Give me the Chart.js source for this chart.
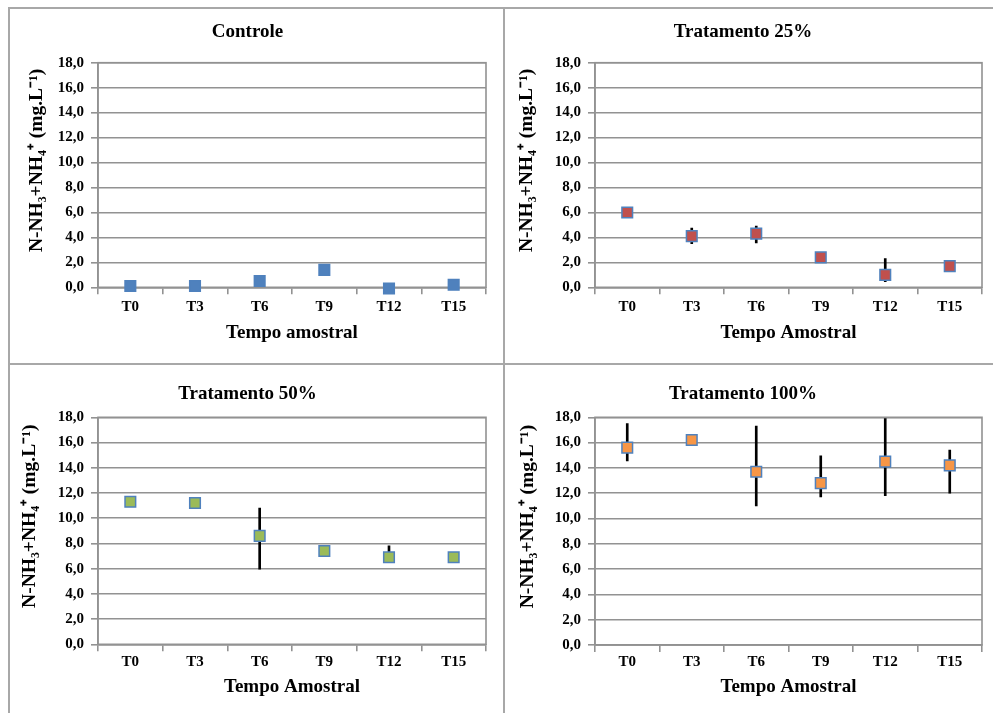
<!DOCTYPE html>
<html>
<head>
<meta charset="utf-8">
<script src="https://cdn.jsdelivr.net/npm/chart.js@4.4.1/dist/chart.umd.min.js"></script>
<style>
body { margin: 0; background: #fff; }
#pagina { position: relative; width: 993px; height: 713px; overflow: hidden; background: #fff; }
.painel { position: absolute; }
.linha { position: absolute; background: #a8a8a8; }
</style>
</head>
<body>
<div id="pagina">
  <canvas id="g1" class="painel" width="495" height="356" style="left:9px;top:8px"></canvas>
  <canvas id="g2" class="painel" width="489" height="356" style="left:504px;top:8px"></canvas>
  <canvas id="g3" class="painel" width="495" height="349" style="left:9px;top:364px"></canvas>
  <canvas id="g4" class="painel" width="489" height="349" style="left:504px;top:364px"></canvas>
  <div class="linha" style="left:8px;top:7px;width:985px;height:2px"></div>
  <div class="linha" style="left:8px;top:7px;width:2px;height:706px"></div>
  <div class="linha" style="left:503px;top:7px;width:2px;height:706px"></div>
  <div class="linha" style="left:8px;top:363px;width:985px;height:2px"></div>
</div>
<script>
// categorias (tempo amostral)
var tempos = ['T0', 'T3', 'T6', 'T9', 'T12', 'T15'];

// N-NH3+NH4+ (mg/L) - medias e erros (+ / -)
var mediaControle = [0.1, 0.1, 0.5, 1.4, -0.1, 0.2];
var errMaisControle = [0, 0, 0, 0, 0, 0];
var errMenosControle = [0, 0, 0, 0, 0, 0];

var media25 = [6.0, 4.1, 4.3, 2.4, 1.0, 1.7];
var errMais25 = [0, 0.65, 0.6, 0, 1.3, 0];
var errMenos25 = [0, 0.6, 0.75, 0, 0.55, 0];

var media50 = [11.3, 11.2, 8.6, 7.4, 6.9, 6.9];
var errMais50 = [0, 0, 2.2, 0, 0.9, 0];
var errMenos50 = [0, 0, 2.65, 0, 0, 0];

var media100 = [15.6, 16.2, 13.7, 12.8, 14.5, 14.2];
var errMais100 = [1.9, 0, 3.6, 2.15, 3.4, 1.2];
var errMenos100 = [1.05, 0, 2.7, 1.1, 2.7, 2.2];

var yTicksMin = 0, yTicksMax = 18, yTicksPasso = 2;

// espacos no inicio sobem o texto (como no original)
var tituloY = '\u2002\u2002\u2002N-NH\u2083+NH\u2084\u207A (mg.L\u207B\u00B9)';
var fonte = 'Liberation Serif';
var corGrade = '#929292';

var bordaArea = {
    id: 'bordaArea',
    beforeDatasetsDraw: function(chart) {
        var a = chart.chartArea;
        var ctx = chart.ctx;
        ctx.save();
        ctx.strokeStyle = corGrade;
        ctx.lineWidth = 1.6;
        ctx.strokeRect(a.left, a.top, a.right - a.left, a.bottom - a.top);
        ctx.restore();
    }
};

function barrasErro(media, mais, menos) {
    var arr = [];
    for (var i in media) {
        if (mais[i] == 0 && menos[i] == 0) arr.push(null);
        else arr.push([media[i] - menos[i], media[i] + mais[i]]);
    }
    return arr;
}

function MontaGrafico(id, titulo, tituloX, media, mais, menos, corFundo, corBorda, geo) {
    var campo = document.getElementById(id);
    new Chart(campo, {
        data: {
            labels: tempos,
            datasets: [
                {
                    type: 'line',
                    data: media,
                    showLine: false,
                    pointStyle: 'rect',
                    pointRadius: 7.5,
                    pointBackgroundColor: corFundo,
                    pointBorderColor: corBorda,
                    pointBorderWidth: 1.5,
                    clip: false,
                    order: 0
                },
                {
                    type: 'bar',
                    data: barrasErro(media, mais, menos),
                    backgroundColor: '#000',
                    barThickness: 2,
                    grouped: false,
                    order: 1
                }
            ]
        },
        options: {
            responsive: false,
            animation: false,
            layout: { padding: { left: 0, right: geo.dir, top: 0, bottom: geo.baixo } },
            plugins: {
                legend: { display: false },
                tooltip: { enabled: false },
                title: {
                    display: true,
                    text: titulo,
                    color: '#000',
                    font: { family: fonte, size: 19, weight: 'bold' },
                    padding: { top: geo.tTop, bottom: geo.tBottom }
                }
            },
            scales: {
                x: {
                    offset: true,
                    grid: { offset: true, drawOnChartArea: false, tickLength: 7, color: corGrade, lineWidth: 1.6 },
                    border: { color: corGrade, width: 1.6 },
                    ticks: { padding: geo.xPad, color: '#000', font: { family: fonte, size: 15, weight: 'bold' } },
                    title: {
                        display: true,
                        text: tituloX,
                        color: '#000',
                        font: { family: fonte, size: 19, weight: 'bold' },
                        padding: { top: 0, bottom: 0 }
                    },
                    afterFit: function(s) { s.height = geo.xAlt; }
                },
                y: {
                    min: yTicksMin,
                    max: yTicksMax,
                    grid: { color: corGrade, lineWidth: 1.6, tickLength: 7 },
                    border: { color: corGrade, width: 1.6 },
                    ticks: {
                        stepSize: yTicksPasso,
                        padding: 7,
                        color: '#000',
                        font: { family: fonte, size: 15, weight: 'bold' },
                        callback: function(v) { return v.toFixed(1).replace('.', ','); }
                    },
                    title: {
                        display: true,
                        text: tituloY,
                        color: '#000',
                        font: { family: fonte, size: 19.5, weight: 'bold' },
                        padding: { top: geo.yTit, bottom: 0 }
                    },
                    afterFit: function(s) { s.width = geo.yLarg; }
                }
            }
        },
        plugins: [bordaArea]
    });
}

MontaGrafico('g1', 'Controle', 'Tempo amostral', mediaControle, errMaisControle, errMenosControle,
    '#4F81BD', '#4F81BD', { dir: 18, baixo: 19.6, tTop: 12.6, tBottom: 19.3, xPad: 3.5, xAlt: 57.1, yLarg: 89, yTit: 16 });
MontaGrafico('g2', 'Tratamento 25%', 'Tempo Amostral', media25, errMais25, errMenos25,
    '#C0504D', '#4F81BD', { dir: 11, baixo: 19.6, tTop: 12.3, tBottom: 19.6, xPad: 3.5, xAlt: 57.1, yLarg: 91, yTit: 11 });
MontaGrafico('g3', 'Tratamento 50%', 'Tempo Amostral', media50, errMais50, errMenos50,
    '#9BBB59', '#4F81BD', { dir: 18, baixo: 14.9, tTop: 18.6, tBottom: 11.9, xPad: 1.5, xAlt: 53.8, yLarg: 89, yTit: 9 });
MontaGrafico('g4', 'Tratamento 100%', 'Tempo Amostral', media100, errMais100, errMenos100,
    '#F79646', '#4F81BD', { dir: 11, baixo: 14.9, tTop: 18.9, tBottom: 11.6, xPad: 1, xAlt: 53.1, yLarg: 91, yTit: 12 });
</script>
</body>
</html>
